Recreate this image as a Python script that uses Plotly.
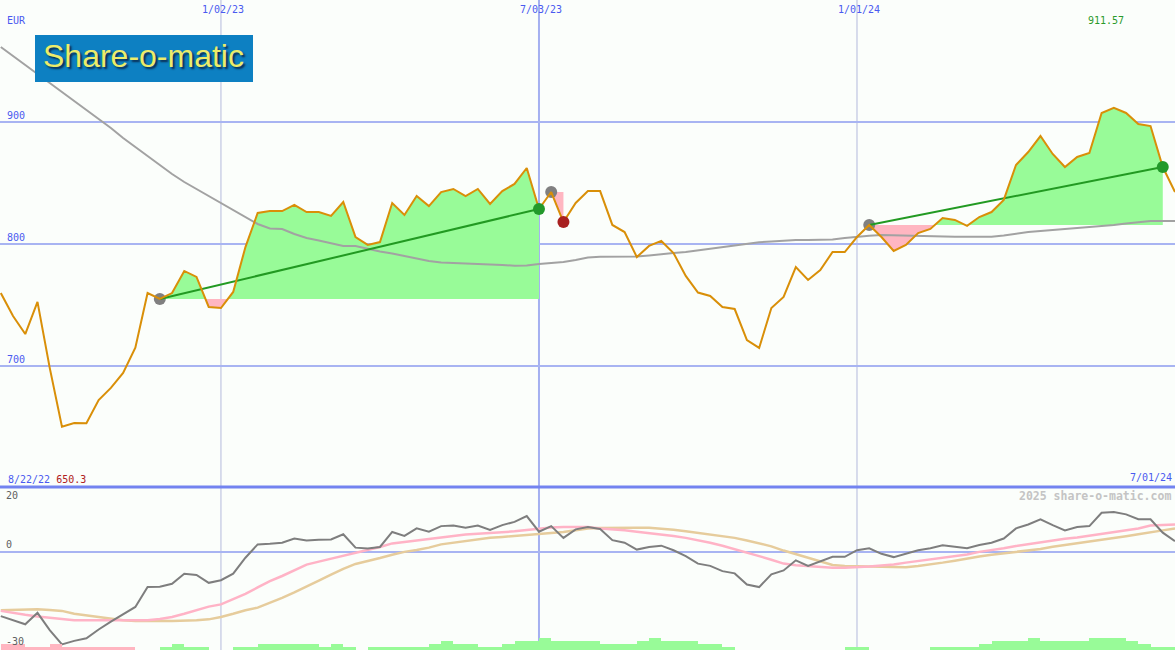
import pandas as pd
import plotly.graph_objects as go

# ---------------- data ----------------
weeks = pd.date_range("2022-08-29", periods=97, freq="7D")

price = [759.8, 741.0, 726.2, 752.5, 698.4, 650.3, 653.3, 653.0, 672.1, 682.0,
         694.3, 715.0, 759.8, 754.9, 759.8, 777.9, 773.0, 748.4, 747.5, 760.7,
         797.5, 825.4, 827.0, 827.0, 832.0, 826.2, 826.2, 823.0, 834.4, 805.7,
         799.2, 801.6, 833.6, 823.8, 839.3, 831.1, 842.6, 845.1, 839.3, 845.1,
         832.8, 843.4, 849.2, 862.3, 828.7, 842.6, 818.0, 833.6, 843.4, 843.4,
         815.6, 809.8, 789.3, 798.4, 802.5, 792.6, 773.8, 760.2, 757.4, 748.4,
         746.7, 721.3, 714.8, 747.5, 756.6, 781.1, 770.5, 778.7, 793.4, 793.4,
         805.7, 815.6, 805.7, 794.3, 799.2, 809.0, 812.3, 821.3, 819.7, 814.8,
         822.1, 826.2, 836.1, 864.8, 875.4, 888.5, 873.8, 863.1, 871.3, 874.6,
         907.4, 911.57, 907.4, 898.4, 896.7, 863.1, 842.6]

moving_avg = [961.5, 954.1, 946.7, 939.3, 932.0, 924.6, 917.2, 909.8, 902.5, 895.1,
              886.9, 879.5, 872.1, 864.8, 857.4, 850.8, 845.1, 839.3, 833.6, 827.9,
              822.1, 816.4, 812.7, 812.3, 808.2, 804.9, 802.9, 800.4, 798.4, 798.4,
              795.9, 793.9, 792.2, 790.2, 788.1, 786.1, 784.8, 784.4, 784.4, 784.2,
              783.6, 782.8, 782.2, 782.4, 783.6, 784.4, 785.2, 786.9, 788.9, 789.6,
              789.6, 789.6, 789.8, 790.6, 791.8, 792.6, 793.4, 794.7, 795.9, 797.3,
              798.8, 800.4, 801.4, 802.0, 802.7, 803.3, 803.3, 803.3, 803.7, 804.9,
              806.0, 806.8, 807.4, 807.1, 807.0, 806.6, 806.1, 806.0, 806.0, 806.0,
              806.0, 806.0, 807.0, 808.6, 809.8, 810.7, 811.5, 812.0, 812.7, 813.5,
              814.5, 815.6, 816.8, 818.0, 818.9, 818.9, 818.9]

momentum = [-19.6, -20.9, -22.1, -18.6, -23.9, -28.3, -27.2, -26.4, -23.7, -21.3,
            -19.1, -16.8, -10.7, -10.6, -9.7, -6.6, -7.0, -9.4, -8.6, -6.6,
            -1.7, 2.4, 2.6, 2.9, 4.2, 3.6, 3.8, 3.9, 5.5, 1.4,
            1.1, 1.6, 6.2, 5.0, 7.3, 6.3, 8.0, 8.2, 7.5, 8.2,
            6.8, 8.3, 9.3, 11.1, 6.3, 8.0, 4.4, 7.0, 7.7, 7.1,
            3.7, 2.9, 0.8, 1.6, 2.0, 0.6, -1.2, -3.5, -4.2, -5.8,
            -6.5, -9.9, -10.7, -6.8, -5.6, -2.5, -4.2, -2.9, -1.4, -1.4,
            0.6, 1.2, -0.5, -1.5, -0.4, 0.6, 1.2, 2.1, 1.7, 1.2,
            2.2, 2.9, 4.2, 7.3, 8.5, 10.1, 8.3, 6.7, 7.7, 8.0,
            12.1, 12.3, 11.6, 10.1, 10.1, 6.0, 3.4]

signal_fast = [-18.0, -18.7, -19.2, -19.7, -20.1, -20.5, -20.9, -20.9, -20.9, -20.9,
               -21.0, -21.1, -20.9, -20.5, -19.9, -18.9, -17.8, -16.7, -16.0, -14.5,
               -12.8, -10.8, -8.9, -7.3, -5.5, -3.8, -2.9, -2.0, -1.0, -0.3,
               0.6, 1.6, 2.7, 3.2, 3.7, 4.2, 4.7, 5.0, 5.4, 5.6,
               5.8, 6.1, 6.4, 6.8, 7.3, 7.6, 7.7, 7.7, 7.7, 7.3,
               7.1, 6.7, 6.3, 5.9, 5.5, 5.0, 4.4, 3.7, 2.9, 2.0,
               1.0, -0.2, -1.2, -2.3, -3.5, -4.0, -4.3, -4.6, -4.8, -4.8,
               -4.7, -4.4, -4.1, -3.8, -3.2, -2.7, -2.2, -1.7, -1.2, -0.7,
               0.1, 0.6, 1.2, 1.9, 2.5, 2.9, 3.6, 4.1, 4.5, 5.1,
               5.6, 6.2, 6.7, 7.3, 8.2, 8.4, 8.5]

signal_slow = [-17.8, -17.7, -17.6, -17.5, -17.7, -18.0, -18.9, -19.4, -20.1, -20.6,
               -20.9, -21.1, -21.0, -21.0, -21.1, -21.1, -20.9, -20.6, -19.9, -18.9,
               -17.8, -17.0, -15.6, -14.0, -12.3, -10.6, -8.7, -6.9, -5.1, -3.6,
               -2.8, -1.8, -0.8, 0.1, 0.7, 1.4, 2.4, 2.9, 3.5, 4.0,
               4.4, 4.7, 5.0, 5.2, 5.5, 5.9, 6.2, 6.7, 7.3, 7.4,
               7.5, 7.5, 7.5, 7.5, 7.3, 6.9, 6.4, 5.9, 5.4, 4.9,
               4.4, 3.6, 2.8, 1.8, 0.5, -0.6, -1.7, -2.7, -3.9, -4.2,
               -4.3, -4.4, -4.6, -4.6, -4.6, -4.2, -3.8, -3.2, -2.6, -1.9,
               -1.3, -0.8, -0.4, 0.1, 0.6, 1.0, 1.7, 2.2, 2.7, 3.2,
               3.7, 4.3, 4.9, 5.5, 6.0, 6.7, 7.3]

strength_bars = [-2, -2, -1, -1, -2, -1, -1, -1, -1, -1,
                 -1, 0, 0, 1, 2, 1, 1, 0, 0, 1,
                 1, 2, 2, 2, 2, 2, 1, 2, 1, 0,
                 1, 1, 1, 1, 1, 2, 3, 2, 2, 1,
                 1, 2, 3, 3, 4, 3, 3, 3, 3, 2,
                 2, 2, 3, 4, 3, 3, 3, 2, 2, 1,
                 0, 0, 0, 0, 0, 0, 0, 0, 0, 1,
                 1, 0, 0, 0, 0, 0, 1, 1, 1, 1,
                 2, 3, 3, 3, 4, 3, 3, 3, 3, 4,
                 4, 4, 3, 2, 1, 1, 0]

trade_entry = [13, 45, 71]
trade_exit = [44, 46, 95]

grid_dates = ["2023-01-02", "2023-07-03", "2024-01-01"]
grid_date_labels = ["1/02/23", "7/03/23", "1/01/24"]
start_label = "8/22/22"
end_label = "7/01/24"
main_levels = [700, 800, 900]
sub_labels = [20, 0, -30]
currency = "EUR"
brand = "Share-o-matic"
watermark = "2025 share-o-matic.com"

# ---------------- styling ----------------
BG = "#FBFEFB"
BLUE_TXT = "#4A5AF0"
GRID = "#A8B4F2"
GREEN_FILL = "#98FB98"
PINK_FILL = "#FFB6C1"
MONO = "DejaVu Sans Mono"
H = 650
W = 1175
split = 163 / H

fig = go.Figure()


def trade_fill(i0, i1, base):
    xs, up, lo = [], [], []
    for i in range(i0, i1 + 1):
        if i > i0:
            a, b = price[i - 1] - base, price[i] - base
            if a * b < 0:
                t = a / (a - b)
                xs.append(weeks[i - 1] + (weeks[i] - weeks[i - 1]) * t)
                up.append(base)
                lo.append(base)
        xs.append(weeks[i])
        up.append(max(price[i], base))
        lo.append(min(price[i], base))
    return xs, up, lo


for e, x in zip(trade_entry, trade_exit):
    base = price[e]
    xs, up, lo = trade_fill(e, x, base)
    fig.add_trace(go.Scatter(x=xs + [xs[-1], xs[0]], y=up + [base, base], fill="toself",
                             fillcolor=GREEN_FILL, line=dict(width=0), mode="lines",
                             hoverinfo="skip"))
    fig.add_trace(go.Scatter(x=xs + [xs[-1], xs[0]], y=lo + [base, base], fill="toself",
                             fillcolor=PINK_FILL, line=dict(width=0), mode="lines",
                             hoverinfo="skip"))

# moving average
fig.add_trace(go.Scatter(x=weeks, y=moving_avg, mode="lines",
                         line=dict(color="#A2A2A2", width=2)))

# entry markers
fig.add_trace(go.Scatter(x=[weeks[i] for i in trade_entry], y=[price[i] for i in trade_entry],
                         mode="markers", marker=dict(color="#808080", size=12)))

# trade lines (winning trades)
for e, x in zip(trade_entry, trade_exit):
    if price[x] > price[e]:
        fig.add_trace(go.Scatter(x=[weeks[e], weeks[x]], y=[price[e], price[x]], mode="lines",
                                 line=dict(color="#229A22", width=2)))

# price
fig.add_trace(go.Scatter(x=weeks, y=price, mode="lines",
                         line=dict(color="#D98F08", width=2)))

# exit markers
fig.add_trace(go.Scatter(x=[weeks[i] for i in trade_exit], y=[price[i] for i in trade_exit],
                         mode="markers",
                         marker=dict(color=["#22992A" if price[x] > price[e] else "#A82020"
                                            for e, x in zip(trade_entry, trade_exit)], size=12)))

# ---- lower panel ----
fig.add_trace(go.Bar(x=weeks, y=[abs(v) for v in strength_bars], yaxis="y3",
                     marker=dict(color=[GREEN_FILL if v > 0 else PINK_FILL for v in strength_bars],
                                 line=dict(width=0)),
                     width=7 * 24 * 3600 * 1000, offset=0))
fig.add_trace(go.Scatter(x=weeks, y=signal_slow, yaxis="y2", mode="lines",
                         line=dict(color="#E6CC9C", width=2.5)))
fig.add_trace(go.Scatter(x=weeks, y=signal_fast, yaxis="y2", mode="lines",
                         line=dict(color="#FFB3C6", width=2.5)))
fig.add_trace(go.Scatter(x=weeks, y=momentum, yaxis="y2", mode="lines",
                         line=dict(color="#7E7E7E", width=2)))

# ---------------- layout ----------------
shapes = []
for d in grid_dates:
    thick = d == grid_dates[1]
    shapes.append(dict(type="line", xref="x", yref="paper", x0=d, x1=d, y0=0, y1=1,
                       line=dict(color="#A4B0F0" if thick else "#B4BADC", width=2 if thick else 1),
                       layer="below"))
shapes.append(dict(type="line", xref="paper", yref="paper", x0=0, x1=1, y0=split, y1=split,
                   line=dict(color="#7383F0", width=3), layer="above"))
# logo box
shapes.append(dict(type="rect", xref="paper", yref="paper", x0=35 / W, x1=253 / W,
                   y0=1 - 82 / H, y1=1 - 35 / H, fillcolor="#0D80C2", line=dict(width=0),
                   layer="above"))

ann = []
f10 = dict(family=MONO, size=10, color=BLUE_TXT)
ann.append(dict(text=currency, xref="paper", yref="paper", x=5 / W, y=1 - 21 / H,
                xanchor="left", yanchor="middle", showarrow=False, font=f10))
for lv in main_levels:
    ann.append(dict(text=str(lv), xref="paper", yref="y", x=5 / W, y=lv, xanchor="left",
                    yanchor="bottom", yshift=-1, showarrow=False, font=f10))
for d, lab in zip(grid_dates, grid_date_labels):
    ann.append(dict(text=lab, xref="x", yref="paper", x=d, y=1, xanchor="center",
                    yanchor="top", yshift=-2, xshift=2, showarrow=False, font=f10))
ann.append(dict(text=f"{max(price):.2f}", xref="paper", yref="paper", x=1106 / W, y=1 - 21 / H,
                xanchor="center", yanchor="middle", showarrow=False,
                font=dict(family=MONO, size=10, color="#2A9A2A")))
ann.append(dict(text=f'<span style="color:{BLUE_TXT}">{start_label}</span> '
                     f'<span style="color:#B02020">{min(price):.1f}</span>',
                xref="paper", yref="paper", x=6 / W, y=(H - 479) / H,
                xanchor="left", yanchor="middle", showarrow=False, font=f10))
ann.append(dict(text=end_label, xref="paper", yref="paper", x=1174 / W, y=(H - 478) / H,
                xanchor="right", yanchor="middle", showarrow=False, font=f10))
ann.append(dict(text=f"<b>{watermark}</b>", xref="paper", yref="paper", x=1173 / W,
                y=(H - 496) / H, xanchor="right", yanchor="middle", showarrow=False,
                font=dict(family=MONO, size=11.5, color="#C4C4C4")))
sub_font = dict(family=MONO, size=10, color="#606060")
ann.append(dict(text=str(sub_labels[0]), xref="paper", yref="paper", x=4 / W, y=(H - 495) / H,
                xanchor="left", yanchor="middle", showarrow=False, font=sub_font))
ann.append(dict(text=str(sub_labels[1]), xref="paper", yref="y2", x=4 / W, y=sub_labels[1],
                xanchor="left", yanchor="bottom", showarrow=False, font=sub_font))
ann.append(dict(text=str(sub_labels[2]), xref="paper", yref="paper", x=4 / W, y=(H - 641) / H,
                xanchor="left", yanchor="middle", showarrow=False, font=sub_font))
# logo text
ann.append(dict(text=brand, xref="paper", yref="paper", x=143 / W, y=1 - 56 / H,
                xanchor="center", yanchor="middle", showarrow=False,
                font=dict(family="Liberation Sans, Arial, sans-serif", size=32, color="#ECEC6A",
                          shadow="2px 2px 2px #0A2A50")))

fig.update_layout(
    width=W, height=H, autosize=False,
    margin=dict(l=0, r=0, t=0, b=0),
    paper_bgcolor=BG, plot_bgcolor=BG,
    showlegend=False,
    bargap=0,
    xaxis=dict(range=[pd.Timestamp("2022-08-28 13:00"), pd.Timestamp("2024-07-01")],
               visible=False, showgrid=False, zeroline=False),
    yaxis=dict(range=[600.8, 1000], domain=[split, 1], tickvals=main_levels, showgrid=True,
               gridcolor=GRID, gridwidth=2, showticklabels=False, zeroline=False, ticks=""),
    yaxis2=dict(range=[-30, 20], domain=[0, split], tickvals=[0], showgrid=True,
                gridcolor=GRID, gridwidth=2, showticklabels=False, zeroline=False, ticks=""),
    yaxis3=dict(range=[0, 163 / 3], overlaying="y2", visible=False, showgrid=False),
    shapes=shapes,
    annotations=ann,
)

fig.write_html("out.html", config={"displayModeBar": False},
               post_script="document.body.style.margin='0';document.body.style.background='"
                           + BG + "';")
